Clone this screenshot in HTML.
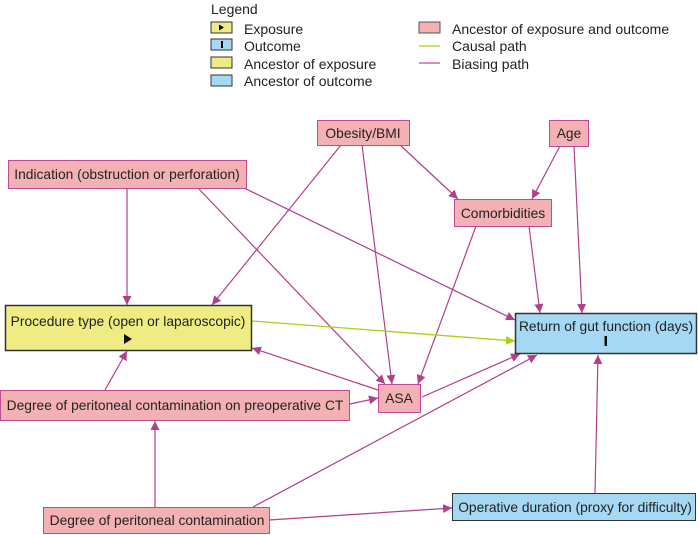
<!DOCTYPE html>
<html><head><style>
body{margin:0;background:#fff;}
svg{display:block;font-family:"Liberation Sans",Arial,sans-serif;}
</style></head><body>
<svg width="698" height="535" viewBox="0 0 698 535" xmlns="http://www.w3.org/2000/svg">
<defs>
<marker id="m" viewBox="0 0 10 10" refX="10" refY="5" markerWidth="9" markerHeight="9" orient="auto" markerUnits="userSpaceOnUse"><path d="M0,0L10,5L0,10z" fill="#b0408a"/></marker>
<marker id="g" viewBox="0 0 10 10" refX="10" refY="5" markerWidth="9" markerHeight="9" orient="auto" markerUnits="userSpaceOnUse"><path d="M0,0L10,5L0,10z" fill="#a8d21a"/></marker>
</defs>
<text x="211" y="14" font-size="14" fill="#222">Legend</text>
<g font-size="14" fill="#222">
<rect x="211" y="22" width="21" height="11" fill="#eeec82" stroke="#333"/><path d="M219,24.5l5,3l-5,3z" fill="#000"/>
<text x="244" y="34">Exposure</text>
<rect x="211" y="39" width="21" height="11" fill="#a5d8f3" stroke="#333"/><rect x="221" y="41" width="2" height="7" fill="#000"/>
<text x="244" y="51">Outcome</text>
<rect x="211" y="57" width="21" height="11" fill="#eeec82" stroke="#333"/>
<text x="244" y="69">Ancestor of exposure</text>
<rect x="211" y="75" width="21" height="11" fill="#a5d8f3" stroke="#333"/>
<text x="244" y="86">Ancestor of outcome</text>
<rect x="419" y="22" width="21" height="11" fill="#f4b1b3" stroke="#555"/>
<text x="452" y="34">Ancestor of exposure and outcome</text>
<line x1="419" y1="46" x2="440" y2="46" stroke="#a8d21a" stroke-width="1.3"/>
<text x="452" y="51">Causal path</text>
<line x1="419" y1="63" x2="440" y2="63" stroke="#c04a96" stroke-width="1.3"/>
<text x="452" y="69">Biasing path</text>
</g>
<g stroke="#b0408a" stroke-width="1.2" fill="none" marker-end="url(#m)">
<line x1="127" y1="188" x2="127" y2="305"/>
<line x1="341" y1="145" x2="212" y2="305"/>
<line x1="362" y1="145" x2="392" y2="384"/>
<line x1="400" y1="145" x2="458" y2="199"/>
<line x1="560" y1="146" x2="532" y2="199"/>
<line x1="574" y1="146" x2="582" y2="313"/>
<line x1="198" y1="188" x2="385" y2="384"/>
<line x1="240" y1="186" x2="515" y2="320"/>
<line x1="476" y1="226" x2="418" y2="384"/>
<line x1="529" y1="226" x2="540" y2="313"/>
<line x1="378" y1="390" x2="252" y2="348"/>
<line x1="422" y1="397" x2="520" y2="354"/>
<line x1="350" y1="404" x2="378" y2="398"/>
<line x1="105" y1="390" x2="127" y2="351"/>
<line x1="155" y1="507" x2="155" y2="421"/>
<line x1="253" y1="507" x2="537" y2="355"/>
<line x1="269" y1="520" x2="452" y2="508"/>
<line x1="595" y1="493" x2="598" y2="355"/>
</g>
<line x1="252" y1="321" x2="515" y2="341" stroke="#a8d21a" stroke-width="1.3" marker-end="url(#g)"/>
<g font-size="13.8" fill="#222" text-anchor="middle">
<rect x="317.5" y="120.5" width="92" height="25" fill="#f4b1b3" stroke="#c04a96"/><text x="363" y="138">Obesity/BMI</text>
<rect x="549.5" y="120.5" width="39" height="26" fill="#f4b1b3" stroke="#c04a96"/><text x="569" y="138">Age</text>
<rect x="8.5" y="160.5" width="238" height="28" fill="#f4b1b3" stroke="#c04a96"/><text x="127" y="179">Indication (obstruction or perforation)</text>
<rect x="454.5" y="199.5" width="97" height="27" fill="#f4b1b3" stroke="#c04a96"/><text x="503" y="218">Comorbidities</text>
<rect x="5.5" y="305.5" width="246" height="45" fill="#eeec82" stroke="#333" stroke-width="1.5"/><text x="128" y="326">Procedure type (open or laparoscopic)</text>
<path d="M124,334l8,5l-8,5z" fill="#111"/>
<rect x="515.5" y="313.5" width="181" height="40" fill="#a5d8f3" stroke="#333" stroke-width="1.5"/><text x="606" y="331">Return of gut function (days)</text>
<rect x="604.5" y="336" width="2.5" height="10" fill="#111"/>
<rect x="378.5" y="384.5" width="42" height="28" fill="#f4b1b3" stroke="#c04a96"/><text x="399" y="403">ASA</text>
<rect x="0.5" y="390.5" width="349" height="30" fill="#f4b1b3" stroke="#c04a96"/><text x="175" y="410">Degree of peritoneal contamination on preoperative CT</text>
<rect x="43.5" y="507.5" width="226" height="26" fill="#f4b1b3" stroke="#c04a96"/><text x="157" y="525">Degree of peritoneal contamination</text>
<rect x="452.5" y="493.5" width="243" height="27" fill="#a5d8f3" stroke="#333"/><text x="575" y="512">Operative duration (proxy for difficulty)</text>
</g>
</svg>
</body></html>
